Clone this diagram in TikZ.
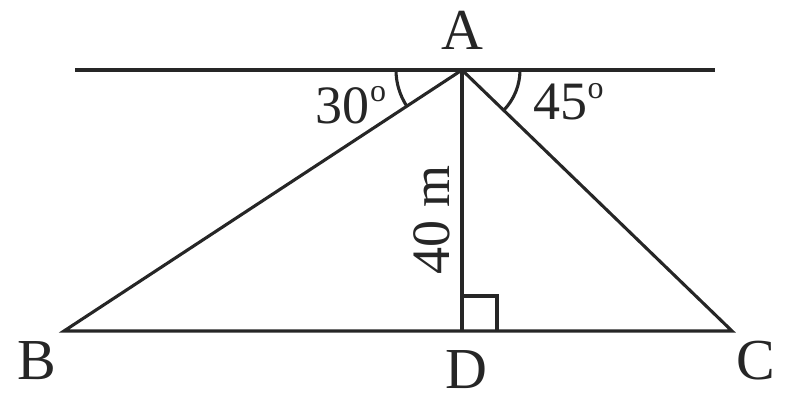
\documentclass[tikz,border=0pt]{standalone}
\usepackage{fontspec}
\setmainfont{Liberation Serif}
\begin{document}
\begin{tikzpicture}[x=1pt,y=1pt,
  ln/.style={line width=3.1pt,black!85},
  lab/.style={font=\fontsize{58}{58}\selectfont,text=black!85,inner sep=0pt},
  num/.style={font=\fontsize{54}{54}\selectfont,text=black!85,inner sep=0pt}]
\useasboundingbox (0,0) rectangle (790,413);
\coordinate (A) at (462,343);
\coordinate (B) at (64,82);
\coordinate (C) at (732,82);
\coordinate (D) at (462,82);
\coordinate (L) at (75,343);
\coordinate (R) at (715,343);
\draw[ln] (L) -- (R);
\draw[ln,line join=miter] (A) -- (B) -- (C) -- cycle;
\draw[ln] (A) -- (D);
\draw[ln] (D) ++(0,35) coordinate (s1) -- ++(35,0) coordinate (s2) -- ++(0,-35) coordinate (s3);
\draw[ln] (A) ++(-66,0) arc[start angle=180,end angle=213.3,radius=66];
\draw[ln] (A) ++(58,0) arc[start angle=0,end angle=-44,radius=58];
\node[lab] (lA) at (462,383) {A};
\node[lab] (lB) at (37,52) {B};
\node[lab] (lC) at (756,52) {C};
\node[lab] (lD) at (466,43) {D};
\node[num,anchor=east] (a30) at (370,307) {30};
\node[num,anchor=west,font=\fontsize{32}{32}\selectfont] (d30) at (a30.north east) [yshift=-7pt] {o};
\node[num,anchor=west] (a45) at (533,311) {45};
\node[num,anchor=west,font=\fontsize{32}{32}\selectfont] (d45) at (a45.north east) [yshift=-7pt] {o};
\node[num,rotate=90] (h) at (432,193) {40 m};
\end{tikzpicture}
\end{document}
